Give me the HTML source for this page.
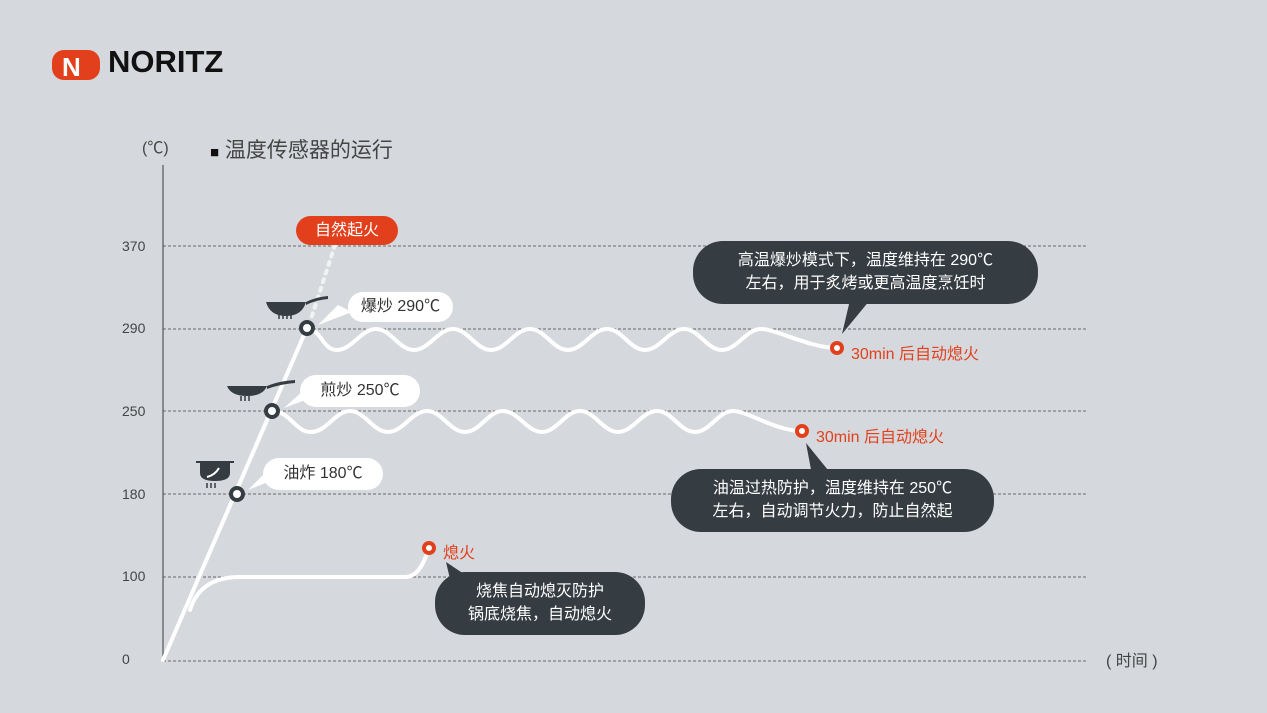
<!DOCTYPE html>
<html><head><meta charset="utf-8"><style>
body{margin:0;width:1267px;height:713px;background:#d5d9dd;overflow:hidden;font-family:"Liberation Sans","Noto Sans CJK SC",sans-serif;position:relative}
.a{position:absolute;white-space:nowrap}
.wb{position:absolute;background:#fff;border-radius:16px;color:#333;font-size:16px;text-align:center}
.db{position:absolute;background:#353c42;border-radius:30px;color:#fff;font-size:16px;text-align:center;line-height:23px}
.yl{position:absolute;left:122px;font-size:14px;color:#444}
</style></head><body>
<svg width="1267" height="713" style="position:absolute;left:0;top:0">
<g stroke="#666" stroke-dasharray="3,2" stroke-width="1">
<line x1="163" y1="246" x2="1086" y2="246"/><line x1="163" y1="329" x2="1086" y2="329"/>
<line x1="163" y1="411" x2="1086" y2="411"/><line x1="163" y1="494" x2="1086" y2="494"/>
<line x1="163" y1="577" x2="1086" y2="577"/><line x1="163" y1="661" x2="1086" y2="661"/>
</g>
<line x1="163" y1="165" x2="163" y2="661" stroke="#555" stroke-width="1.2"/>
<line x1="335" y1="245" x2="310" y2="322" stroke="#f2f2f2" stroke-width="4" stroke-dasharray="3,6" stroke-linecap="round"/>
<g fill="none" stroke="#fff" stroke-width="4" stroke-linecap="round">
<line x1="163" y1="660" x2="307" y2="328"/>
<path d="M190,610 Q200,577 240,577 L405,577 Q420,577 428,550"/>
<path d="M307,329 C322,329 322,350 337,350 S361,329 376,329 S399,350 414,350 S438,329 453,329 S476,350 491,350 S515,329 530,329 S553,350 568,350 S592,329 607,329 S630,350 645,350 S669,329 684,329 S707,350 722,350 S746,329 761,329 S810,348 837,348"/>
<path d="M272,411 C290,411 295,432 311,432 S335,411 350,411 S373,432 388,432 S412,411 427,411 S450,432 465,432 S488,411 503,411 S527,432 542,432 S565,411 580,411 S603,432 618,432 S642,411 657,411 S680,432 695,432 S718,411 733,411 S775,431 802,431"/>
</g>
<g fill="#fff" stroke="#353c42" stroke-width="4">
<circle cx="307" cy="328" r="6"/><circle cx="272" cy="411" r="6"/><circle cx="237" cy="494" r="6"/></g>
<g fill="#fff" stroke="#e2401c" stroke-width="4">
<circle cx="837" cy="348" r="5"/><circle cx="802" cy="431" r="5"/><circle cx="429" cy="548" r="5"/></g>
<g fill="#fff"><path d="M318,325 L338,305 L352,312Z"/><path d="M284,408 L304,390 L316,396Z"/><path d="M248,490 L266,472 L278,478Z"/></g>
<g fill="#353c42"><path d="M842,334 L850,300 L870,300Z"/><path d="M806,443 L812,475 L832,475Z"/><path d="M446,562 L470,578 L455,600Z"/>
<path d="M266,302 h40 q-4,14 -20,14 q-16,0 -20,-14z"/><path d="M306,302 q10,-5 22,-6 v3 q-12,1 -22,6z"/>
<path d="M227,386 h40 q-4,10 -20,10 q-16,0 -20,-10z"/><path d="M267,386 q12,-5 28,-6 v3 q-14,1 -28,6z"/>
<path d="M196,461 h38 v2 h-4 v10 q0,8 -15,8 q-15,0 -15,-8 v-10 h-4z"/></g>
<g stroke="#353c42" stroke-width="1.5"><path d="M279,314v5M283,314v5M287,314v5M291,314v5M241,396v5M245,396v5M249,396v5M207,483v5M211,483v5M215,483v5"/></g>
<path d="M207,477 q8,-2 12,-9" stroke="#fff" stroke-width="2" fill="none"/>
<rect x="52" y="50" width="48" height="30" rx="12" fill="#e2401c"/>
<text x="62" y="76" font-family="Liberation Sans" font-weight="bold" font-size="26" fill="#fff">N</text>
</svg>
<div class="a" style="left:108px;top:44px;font-size:31px;font-weight:bold;color:#111">NORITZ</div>
<div class="a" style="left:142px;top:134px;font-size:16px;color:#444">(℃)</div>
<div class="a" style="left:210px;top:134px;font-size:21px;color:#444"><span style="font-size:15px;color:#111">■</span> 温度传感器的运行</div>
<div class="yl" style="top:238px">370</div><div class="yl" style="top:320px">290</div><div class="yl" style="top:403px">250</div>
<div class="yl" style="top:486px">180</div><div class="yl" style="top:568px">100</div><div class="yl" style="top:651px">0</div>
<div class="a" style="left:1106px;top:647px;font-size:16px;color:#444">( 时间 )</div>
<div class="a" style="left:296px;top:216px;width:102px;height:29px;background:#e2401c;border-radius:15px;color:#fff;font-size:16px;line-height:29px;text-align:center">自然起火</div>
<div class="wb" style="left:348px;top:292px;width:105px;height:30px;line-height:30px">爆炒 290℃</div>
<div class="wb" style="left:300px;top:375px;width:120px;height:32px;line-height:32px">煎炒 250℃</div>
<div class="wb" style="left:263px;top:458px;width:120px;height:32px;line-height:32px">油炸 180℃</div>
<div class="db" style="left:693px;top:241px;width:345px;height:63px;padding-top:8px;box-sizing:border-box">高温爆炒模式下，温度维持在 290℃<br>左右，用于炙烤或更高温度烹饪时</div>
<div class="db" style="left:671px;top:469px;width:323px;height:63px;padding-top:8px;box-sizing:border-box">油温过热防护，温度维持在 250℃<br>左右，自动调节火力，防止自然起</div>
<div class="db" style="left:435px;top:572px;width:210px;height:63px;padding-top:8px;box-sizing:border-box">烧焦自动熄灭防护<br>锅底烧焦，自动熄火</div>
<div class="a" style="left:851px;top:340px;font-size:16px;color:#e2401c">30min 后自动熄火</div>
<div class="a" style="left:816px;top:423px;font-size:16px;color:#e2401c">30min 后自动熄火</div>
<div class="a" style="left:443px;top:539px;font-size:16px;color:#e2401c">熄火</div>
</body></html>
